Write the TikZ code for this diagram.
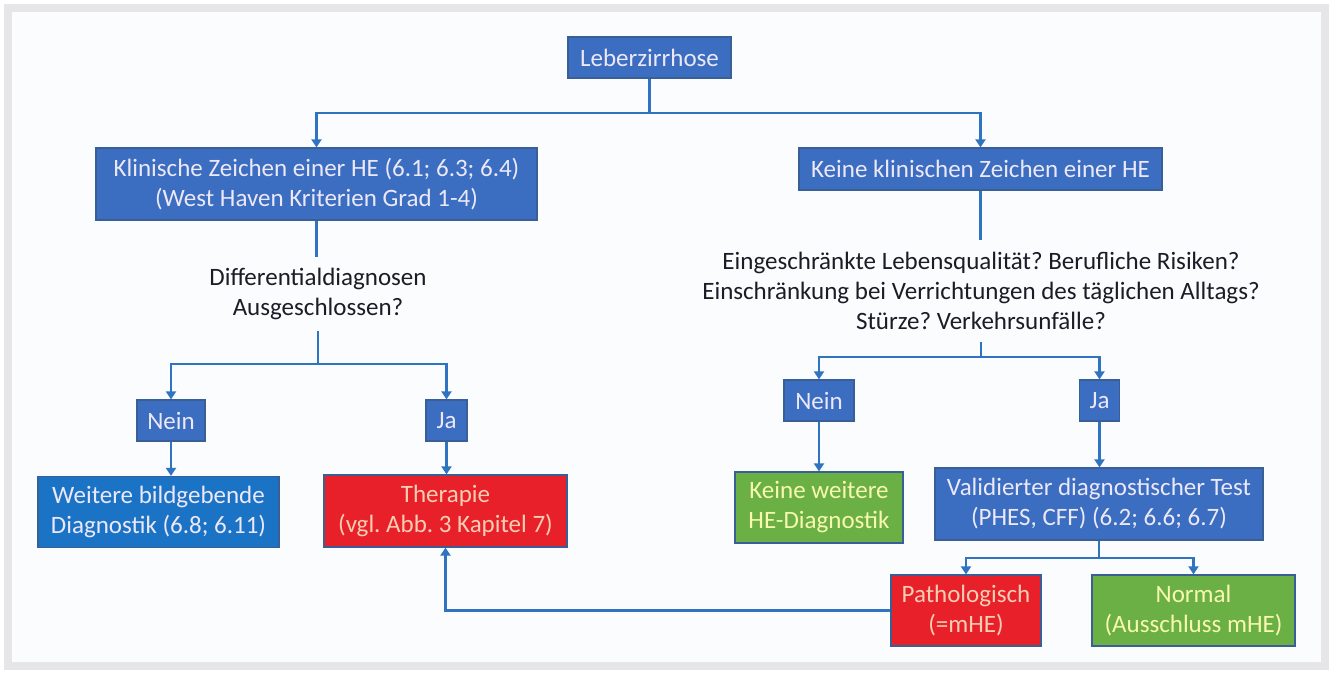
\documentclass[tikz,border=0pt]{standalone}
\usepackage{fontspec}
\setmainfont{Carlito}
\usetikzlibrary{arrows.meta}
\frenchspacing
\definecolor{outerbg}{HTML}{FFFFFF}
\definecolor{frame}{HTML}{E6E6E8}
\definecolor{panel}{HTML}{FBFCFE}
\definecolor{boxblue}{HTML}{3B6DC0}
\definecolor{boxcyan}{HTML}{1B73C6}
\definecolor{boxred}{HTML}{E8202A}
\definecolor{boxgreen}{HTML}{6BB044}
\definecolor{boxline}{HTML}{3A5E96}
\definecolor{bluetext}{HTML}{ECE8F8}
\definecolor{redtext}{HTML}{F8CDB4}
\definecolor{greentext}{HTML}{F8F8B0}
\definecolor{conncol}{HTML}{2E74C0}
\definecolor{qtext}{HTML}{1A1C26}
\begin{document}
\frenchspacing
\begin{tikzpicture}[x=0.5pt,y=-0.5pt,
  font=\fontsize{12.5}{15}\selectfont,
  bx/.style={draw=boxline, line width=0.6pt, inner sep=0pt, align=center},
  bluebox/.style={bx, fill=boxblue, text=bluetext},
  cyanbox/.style={bx, fill=boxcyan, text=bluetext},
  redbox/.style={bx, fill=boxred, text=redtext},
  greenbox/.style={bx, fill=boxgreen, text=greentext},
  question/.style={align=center, text=qtext, inner sep=0pt},
  conn/.style={draw=conncol, line width=1.4pt},
  arr/.style={conn, -{Triangle[width=5pt,length=4pt]}}]
\useasboundingbox (0,0) rectangle (1333,674);
\fill[outerbg] (0,0) rectangle (1333,674);
\fill[frame] (4,4) rectangle (1329,670);
\fill[panel] (12,12) rectangle (1321,662);

% nodes
\node[bluebox, minimum width=81.5pt, minimum height=20.5pt] (leber) at (649.5,57.5) {Leberzirrhose};
\node[bluebox, minimum width=220.5pt, minimum height=36pt] (klin) at (316.5,184) {Klinische Zeichen einer HE (6.1; 6.3; 6.4)\\(West Haven Kriterien Grad 1-4)};
\node[bluebox, minimum width=181.5pt, minimum height=21pt] (keine) at (980.5,169) {Keine klinischen Zeichen einer HE};

\node[question, outer sep=5.5pt] (diff) at (318,294) {Differentialdiagnosen\\Ausgeschlossen?};
\node[question, outer sep=6.5pt, font=\fontsize{12.5}{14.8}\selectfont] (frage) at (981,291) {Eingeschränkte Lebensqualität? Berufliche Risiken?\\Einschränkung bei Verrichtungen des täglichen Alltags?\\Stürze? Verkehrsunfälle?};

\node[bluebox, minimum width=34pt, minimum height=20.5pt] (neinL) at (171,420.5) {Nein};
\node[bluebox, minimum width=20.5pt, minimum height=20.5pt] (jaL) at (446.5,420.5) {Ja};
\node[cyanbox, minimum width=120.5pt, minimum height=35.5pt] (weitere) at (158.5,512) {Weitere bildgebende\\Diagnostik (6.8; 6.11)};
\node[redbox, minimum width=121.5pt, minimum height=36pt] (thera) at (445.5,511) {Therapie\\(vgl. Abb. 3 Kapitel 7)};

\node[bluebox, minimum width=35pt, minimum height=20.5pt] (neinR) at (819,400.5) {Nein};
\node[bluebox, minimum width=20pt, minimum height=20.5pt] (jaR) at (1099.5,400.5) {Ja};
\node[greenbox, minimum width=84pt, minimum height=35.5pt] (keinweit) at (819,507.5) {Keine weitere\\HE-Diagnostik};
\node[bluebox, minimum width=164pt, minimum height=36pt] (valid) at (1099,504) {Validierter diagnostischer Test\\(PHES, CFF) (6.2; 6.6; 6.7)};
\node[redbox, minimum width=75pt, minimum height=35.5pt] (patho) at (966,610.5) {Pathologisch\\(=mHE)};
\node[greenbox, minimum width=101.5pt, minimum height=35.5pt] (normal) at (1193.5,610.5) {Normal\\(Ausschluss mHE)};

% junctions
\coordinate (j1) at (649.5,113);
\coordinate (j2) at (318,364);
\coordinate (j3) at (981,357);
\coordinate (j4) at (1099,558);

% connectors
\draw[conn] (leber.south) -- (j1);
\draw[arr] (j1) -| (klin.north);
\draw[arr] (j1) -| (keine.north);

\draw[conn] (klin.south) -- (klin.south |- diff.north);
\draw[conn] (diff.south) -- (j2);
\draw[arr] (j2) -| (neinL.north);
\draw[arr] (j2) -| (jaL.north);
\draw[arr] (neinL.south) -- (neinL.south |- weitere.north);
\draw[arr] (jaL.south) -- (jaL.south |- thera.north);

\draw[conn] (keine.south) -- (keine.south |- frage.north);
\draw[conn] (frage.south) -- (j3);
\draw[arr] (j3) -| (neinR.north);
\draw[arr] (j3) -| (jaR.north);
\draw[arr] (neinR.south) -- (keinweit.north);
\draw[arr] (jaR.south) -- (jaR.south |- valid.north);

\draw[conn] (valid.south) -- (j4);
\draw[arr] (j4) -| (patho.north);
\draw[arr] (j4) -| (normal.north);
\draw[arr] (patho.west) -| (thera.south);
\end{tikzpicture}
\end{document}
